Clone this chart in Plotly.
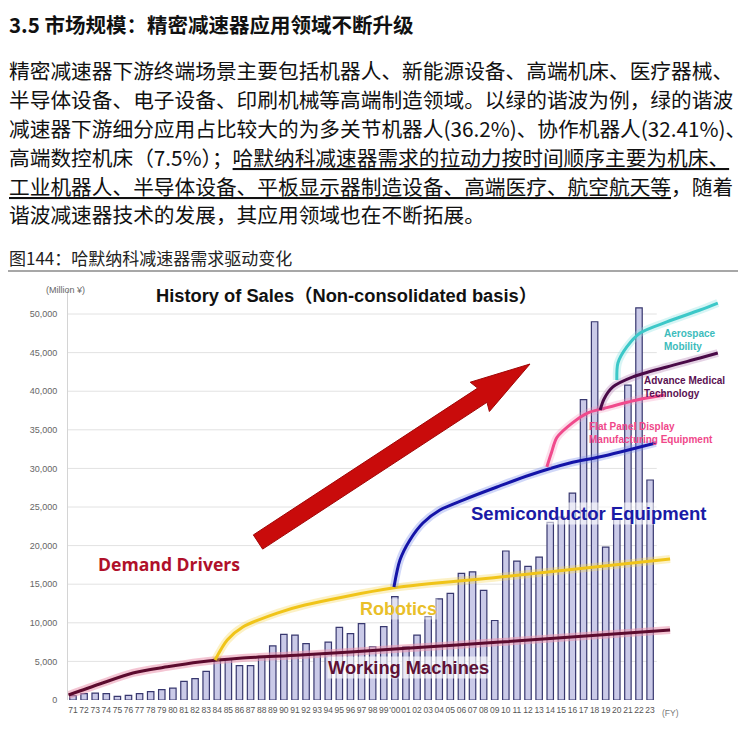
import math
import plotly.graph_objects as go

# the page adds an 8px body margin, so the figure is drawn 8px in from the corner
OFF = 8
W, H = 746 - OFF, 750 - OFF
L, R, T, B = 68 - OFF, 6, 290 - OFF, 50


def px(x):
    # page pixel -> paper x
    return (x - OFF - L) / (W - L - R)


def py(y):
    # page pixel -> paper y
    return (H - B - (y - OFF)) / (H - T - B)


# sales by fiscal year (million yen)
years = list(range(1971, 2024))
sales = [560, 820, 900, 820, 470, 600, 820, 1080, 1340, 1550,
         2400, 2760, 3700, 5400, 5300, 4440, 4440, 5650, 7000, 8500,
         8400, 7300, 6000, 7500, 9400, 8600, 9900, 6900, 9500, 13400,
         6900, 8400, 10800, 13100, 13800, 16400, 16600, 14200, 10300, 19300,
         18000, 17300, 18500, 23000, 23700, 26800, 38900, 49000, 19800, 23500,
         40800, 50800, 28500]
year_labels = ["71", "72", "73", "74", "75", "76", "77", "78", "79", "80",
               "81", "82", "83", "84", "85", "86", "87", "88", "89", "90",
               "91", "92", "93", "94", "95", "96", "97", "98", "99", "'00",
               "01", "02", "03", "04", "05", "06", "07", "08", "09", "10",
               "11", "12", "13", "14", "15", "16", "17", "18", "19", "20",
               "21", "22", "23"]
y_ticks = [0, 5000, 10000, 15000, 20000, 25000, 30000, 35000, 40000, 45000, 50000]
y_labels = ["0", "5,000", "10,000", "15,000", "20,000", "25,000", "30,000",
            "35,000", "40,000", "45,000", "50,000"]

# demand driver curves
wm_x = [1970.6, 1973.4, 1976.4, 1979.5, 1982.4, 1986.0, 1991.5, 2000.0, 2009.5, 2024.8]
wm_y = [650, 2070, 3500, 4300, 4920, 5400, 5830, 6600, 7500, 9070]
rb_x = [1983.8, 1984.9, 1986.3, 1989.4, 1991.9, 1999.8, 2009.5, 2024.8]
rb_y = [5180, 7770, 9450, 11260, 12300, 14500, 15930, 18260]
sc_x = [1999.92, 2000.46, 2001.36, 2002.53, 2004.06, 2006.14, 2009.2, 2012.17, 2015.77, 2018.5, 2023.5]
sc_y = [14640, 18130, 20730, 22930, 24610, 25900, 27590, 29150, 30700, 31500, 33300]
fpd_x = [2013.7, 2014.1, 2014.6, 2016.0, 2017.4, 2018.9, 2021.9, 2024.3]
fpd_y = [30200, 32000, 34000, 35900, 37200, 37800, 38900, 39500]
med_x = [2018.5, 2018.85, 2019.65, 2021.45, 2024.5, 2027.5, 2029.1]
med_y = [37570, 39000, 40550, 41850, 43140, 44300, 44950]
aero_x = [2020.0, 2020.1, 2020.9, 2022.1, 2024.5, 2027.5, 2029.1]
aero_y = [41450, 43650, 45730, 47540, 48970, 50520, 51420]

x_lo, x_hi = 1970.55, 2031.1
grid_end = 2023.6

fig = go.Figure()
fig.add_trace(go.Bar(x=years, y=sales, width=0.58,
                     marker=dict(color="#cacae8", line=dict(color="#38386f", width=1.2)),
                     showlegend=False))

curves = [
    (wm_x, wm_y, "#5c0b2e", "rgba(235,150,175,0.55)"),
    (rb_x, rb_y, "#f0c419", "rgba(245,215,90,0.35)"),
    (sc_x, sc_y, "#1414a8", "rgba(120,140,235,0.35)"),
    (fpd_x, fpd_y, "#f04a8c", "rgba(245,150,190,0.3)"),
    (med_x, med_y, "#4a0a48", "rgba(170,110,170,0.3)"),
    (aero_x, aero_y, "#3cc8c8", "rgba(140,225,225,0.35)"),
]
for cx, cy, col, glow in curves:
    fig.add_trace(go.Scatter(x=cx, y=cy, mode="lines", showlegend=False,
                             line=dict(color=glow, width=8, shape="spline", smoothing=0.8)))
    fig.add_trace(go.Scatter(x=cx, y=cy, mode="lines", showlegend=False,
                             line=dict(color=col, width=3, shape="spline", smoothing=0.8)))

# horizontal gridlines stop at the last bar
for v in y_ticks[1:]:
    fig.add_shape(type="line", xref="x", yref="y", x0=x_lo, x1=grid_end, y0=v, y1=v,
                  line=dict(color="#e2e2e2", width=1), layer="below")

# rule under the figure caption
fig.add_shape(type="line", xref="paper", yref="paper", x0=px(8), x1=px(741),
              y0=py(271), y1=py(271), line=dict(color="#8a8a8a", width=1.5))

# big red trend arrow, built in page pixels
tail, tip = (258, 542), (530, 364)
shaft_w, head_w, head_len = 8.5, 17.5, 57
dx, dy = tip[0] - tail[0], tip[1] - tail[1]
ln = math.hypot(dx, dy)
ux, uy = dx / ln, dy / ln
nx, ny = -uy, ux
bx, by = tip[0] - head_len * ux, tip[1] - head_len * uy
pts = [
    (tail[0] - shaft_w * nx, tail[1] - shaft_w * ny),
    (bx - shaft_w * nx, by - shaft_w * ny),
    (bx - head_w * nx - 3 * ux, by - head_w * ny - 3 * uy),
    tip,
    (bx + head_w * nx - 3 * ux, by + head_w * ny - 3 * uy),
    (bx + shaft_w * nx, by + shaft_w * ny),
    (tail[0] + shaft_w * nx, tail[1] + shaft_w * ny),
]
path = "M " + " L ".join(f"{px(a):.5f},{py(b):.5f}" for a, b in pts) + " Z"
fig.add_shape(type="path", xref="paper", yref="paper", path=path,
              fillcolor="#c90b0b", line=dict(color="#a00606", width=1))

cjk = "Noto Sans CJK SC"
arial = "Liberation Sans, Noto Sans CJK SC"
anns = []


def text(x, y, s, size, color="#111", family=cjk, xanchor="left", bold=False, bg=None):
    anns.append(dict(x=px(x), y=py(y), xref="paper", yref="paper", text=s,
                     showarrow=False, xanchor=xanchor, yanchor="middle",
                     font=dict(size=size, color=color, family=family,
                               weight="bold" if bold else "normal"),
                     bgcolor=bg, borderpad=0))


# document text above the chart
text(8, 24, "3.5 市场规模：精密减速器应用领域不断升级", 20.5, bold=True)
body = [
    "精密减速器下游终端场景主要包括机器人、新能源设备、高端机床、医疗器械、",
    "半导体设备、电子设备、印刷机械等高端制造领域。以绿的谐波为例，绿的谐波",
    "减速器下游细分应用占比较大的为多关节机器人(36.2%)、协作机器人(32.41%)、",
    "高端数控机床（7.5%）；<u>哈默纳科减速器需求的拉动力按时间顺序主要为机床、</u>",
    "<u>工业机器人、半导体设备、平板显示器制造设备、高端医疗、航空航天等</u>，随着",
    "谐波减速器技术的发展，其应用领域也在不断拓展。",
]
line_y = [70, 99, 128, 157, 186, 214]
for s, yy in zip(body, line_y):
    text(8, yy, s, 20.7)
text(8, 258, "图144：哈默纳科减速器需求驱动变化", 17, color="#222")

# chart texts
text(346, 295, "History of Sales（Non-consolidated basis）", 18.3, family=arial,
     xanchor="center", bold=True)
text(45, 290, "(Million ¥)", 9, color="#666", family=arial)
text(661, 713, "(FY)", 8.5, color="#777", family=arial)
text(97, 564, "Demand Drivers", 17.6, color="#b0102a", family="Open Sans", bold=True)
text(359, 609, "Robotics", 18, color="#e9bf2a", family=arial, bold=True,
     bg="rgba(255,255,255,0.45)")
text(327, 667, "Working Machines", 18.3, color="#5e1034", family=arial, bold=True,
     bg="rgba(255,255,255,0.6)")
text(470, 513, "Semiconductor Equipment", 18.5, color="#1a1aa6", family=arial, bold=True,
     bg="rgba(255,255,255,0.6)")
text(588, 426, "Flat Panel Display", 10, color="#f0488a", family=arial, bold=True)
text(588, 439, "Manufacturing Equipment", 10, color="#f0488a", family=arial, bold=True)
text(643, 380, "Advance Medical", 10, color="#5a1052", family=arial, bold=True)
text(643, 393, "Technology", 10, color="#5a1052", family=arial, bold=True)
text(663, 333, "Aerospace", 10, color="#3cbcbc", family=arial, bold=True)
text(663, 346, "Mobility", 10, color="#3cbcbc", family=arial, bold=True)

fig.update_layout(
    width=W, height=H,
    margin=dict(l=L, r=R, t=T, b=B),
    paper_bgcolor="white", plot_bgcolor="white",
    annotations=anns,
    xaxis=dict(range=[x_lo, x_hi], tickvals=years, ticktext=year_labels,
               tickangle=0, showgrid=False, zeroline=False, showline=False,
               ticks="", ticklabelstandoff=3,
               tickfont=dict(size=8.5, color="#555", family=arial)),
    yaxis=dict(range=[0, 53110], tickvals=y_ticks, ticktext=y_labels,
               showgrid=False, zeroline=False, showline=True, linecolor="#d4d4d4",
               ticks="", ticklabelstandoff=8,
               tickfont=dict(size=9, color="#666", family=arial)),
)

fig.write_html("out.html")
